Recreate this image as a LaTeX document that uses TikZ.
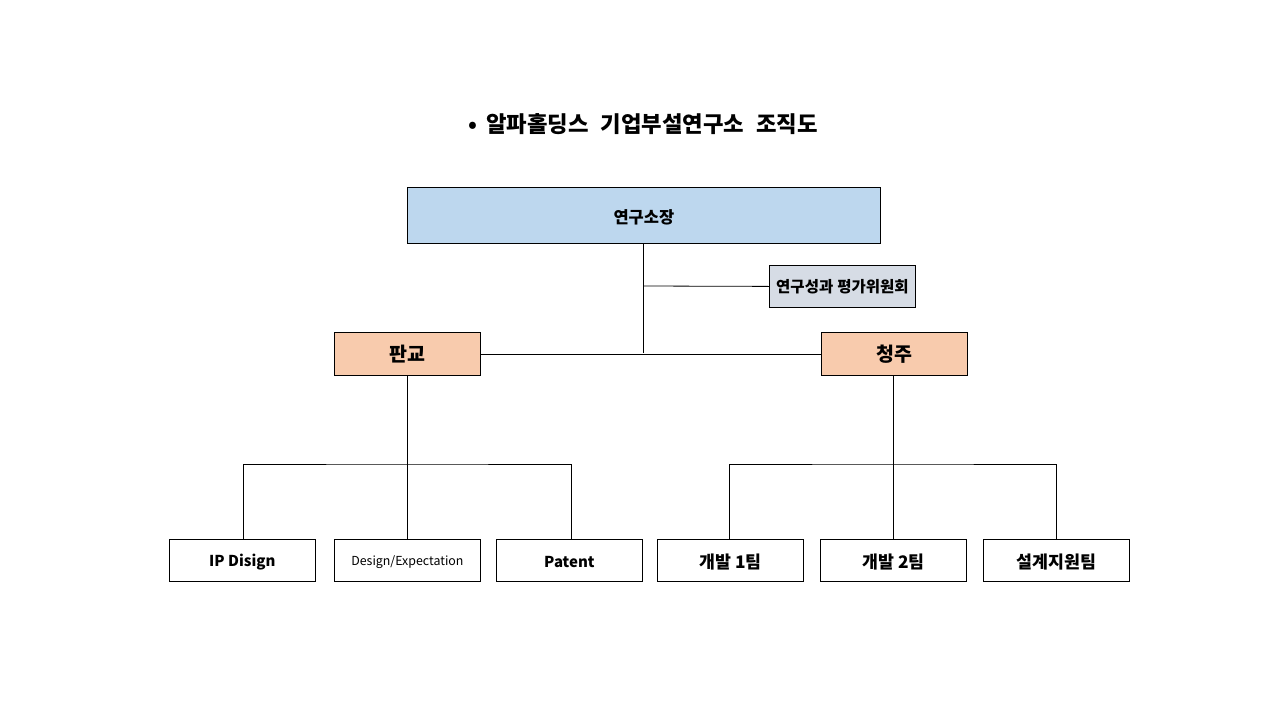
\documentclass[tikz,border=0pt]{standalone}
\usepackage{fontspec}
\setmainfont{Noto Sans CJK KR}
\definecolor{blueF}{HTML}{BDD7EE}
\definecolor{grayF}{HTML}{D6DCE5}
\definecolor{orangeF}{HTML}{F8CBAD}
\newcommand{\lowr}[1]{\raisebox{-2pt}[\height][\depth]{#1}}
\begin{document}
\begin{tikzpicture}[x=1pt,y=-1pt,
  box/.style={draw=black,line width=0.8pt,anchor=north west,inner sep=0pt,align=center},
  conn/.style={draw=black,line width=0.8pt}]
\useasboundingbox (0,0) rectangle (1280,720);
\node[anchor=center,font=\fontsize{22.3}{25}\selectfont\bfseries] (title) at (643,124) {•\hspace{9pt}알파홀딩스\hspace{12pt}기업부설연구소\hspace{12pt}조직도};
\node[box,fill=blueF,minimum width=473pt,minimum height=56pt,font=\fontsize{16.5}{18}\selectfont\bfseries] (dir) at (407,187) {\lowr{연구소장}};
\node[box,fill=grayF,minimum width=146pt,minimum height=42pt,font=\fontsize{15.5}{17}\selectfont\bfseries] (com) at (769,265) {연구성과\hspace{4pt}평가위원회};
\node[box,fill=orangeF,minimum width=146pt,minimum height=43pt,font=\fontsize{19.5}{21}\selectfont\bfseries] (pg) at (334,332) {판교};
\node[box,fill=orangeF,minimum width=146pt,minimum height=43pt,font=\fontsize{19.5}{21}\selectfont\bfseries] (cj) at (821,332) {청주};
\tikzset{leaf/.style={box,minimum width=146pt,minimum height=42pt,font=\fontsize{15}{17}\selectfont\bfseries},
  leafk/.style={leaf,font=\fontsize{17.3}{19}\selectfont\bfseries}}
\node[leaf] (ip) at (169,539) {\lowr{IP Disign}};
\node[leaf,font=\fontsize{12.4}{14}\selectfont] (de) at (334,539) {\lowr{Design/Expectation}};
\node[leaf] (pt) at (496,539) {\lowr{Patent}};
\node[leafk] (d1) at (657,539) {\lowr{개발 1팀}};
\node[leafk] (d2) at (820,539) {\lowr{개발 2팀}};
\node[leafk] (sg) at (983,539) {\lowr{설계지원팀}};
% connectors
\coordinate (j1) at (643,353);
\coordinate (j0) at (643,286);
\draw[conn] (dir.south -| j1) -- (j1);
\draw[conn] (j0) -- (com.west);
\draw[conn] (pg.east) -- (cj.west);
\coordinate (pgj) at (407,464);
\coordinate (cjj) at (893,464);
\draw[conn] (pg.south -| pgj) -- (pgj);
\draw[conn] (ip.north -| 243,0) |- (pgj) -| (pt.north -| 571,0);
\draw[conn] (pgj) -- (de.north -| pgj);
\draw[conn] (cj.south -| cjj) -- (cjj);
\draw[conn] (d1.north -| 729,0) |- (cjj) -| (sg.north -| 1056,0);
\draw[conn] (cjj) -- (d2.north -| cjj);
\end{tikzpicture}
\end{document}
